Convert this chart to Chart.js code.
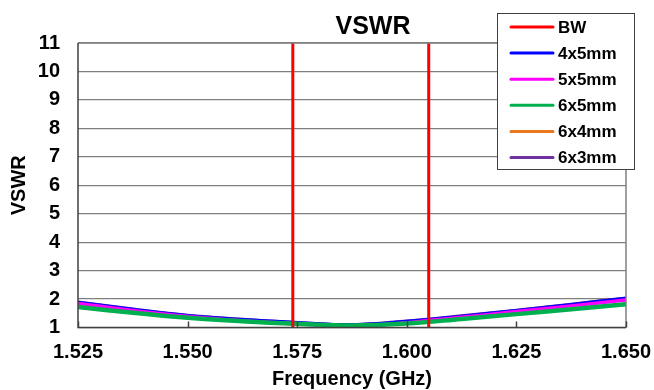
<!DOCTYPE html>
<html>
<head>
<meta charset="utf-8">
<script src="https://cdn.jsdelivr.net/npm/chart.js@4/dist/chart.umd.min.js"></script>
<style>
  html, body { margin: 0; padding: 0; background: #fff; }
  #wrap { width: 654px; height: 390px; }
</style>
</head>
<body>
<div id="wrap"><canvas id="vswrChart" width="654" height="390"></canvas></div>
<script>
const FONT = "'Liberation Sans', Arial, sans-serif";

// frequency points (GHz)
const freqs = [1.525, 1.5375, 1.55, 1.5625, 1.575, 1.5875, 1.60, 1.6125, 1.625, 1.6375, 1.65];
const vswr4x5 = [1.89, 1.64, 1.42, 1.28, 1.18, 1.10, 1.22, 1.40, 1.60, 1.81, 2.03];
const vswr5x5 = [1.84, 1.60, 1.39, 1.24, 1.13, 1.04, 1.17, 1.36, 1.56, 1.76, 1.97];
const vswr6x5 = [1.72, 1.52, 1.34, 1.22, 1.13, 1.07, 1.14, 1.30, 1.47, 1.64, 1.82];
const vswr6x4 = [1.73, 1.53, 1.35, 1.22, 1.13, 1.07, 1.15, 1.31, 1.48, 1.65, 1.83];
const vswr6x3 = [1.90, 1.65, 1.43, 1.29, 1.18, 1.10, 1.23, 1.41, 1.61, 1.82, 2.04];

// band edges (GHz)
const bwEdges = [1.574, 1.605];
const yRange = [1, 11];
const xTicks = [1.525, 1.55, 1.575, 1.60, 1.625, 1.65];

function pts(ys) {
  return freqs.map((f, i) => ({ x: f, y: ys[i] }));
}

const bwPoints = [
  { x: bwEdges[0], y: yRange[0] }, { x: bwEdges[0], y: yRange[1] },
  { x: (bwEdges[0] + bwEdges[1]) / 2, y: null },
  { x: bwEdges[1], y: yRange[1] }, { x: bwEdges[1], y: yRange[0] }
];

function curve(label, ys, color, width, order) {
  return {
    label: label,
    data: pts(ys),
    borderColor: color,
    backgroundColor: color,
    borderWidth: width,
    pointRadius: 0,
    tension: 0.4,
    order: order
  };
}

// inward x ticks, plot frame and the boxed legend
const extras = {
  id: "extras",
  afterDraw(chart) {
    const ctx = chart.ctx;
    const a = chart.chartArea;
    const xs = chart.scales.x;
    ctx.save();
    ctx.strokeStyle = "#808080";
    ctx.lineWidth = 1.5;
    ctx.beginPath();
    ctx.moveTo(a.left, a.top);
    ctx.lineTo(a.right, a.top);
    ctx.lineTo(a.right, a.bottom);
    ctx.stroke();
    ctx.strokeStyle = "#404040";
    ctx.lineWidth = 1.5;
    ctx.beginPath();
    ctx.moveTo(a.left, a.top);
    ctx.lineTo(a.left, a.bottom);
    ctx.lineTo(a.right, a.bottom);
    xTicks.forEach(t => {
      const px = Math.round(xs.getPixelForValue(t)) + 0.5;
      ctx.moveTo(px, a.bottom);
      ctx.lineTo(px, a.bottom - 6);
    });
    ctx.stroke();

    // legend box
    const bx = 497, by = 13, bw = 137, bh = 156;
    ctx.fillStyle = "#fff";
    ctx.fillRect(bx, by, bw, bh);
    ctx.strokeStyle = "#404040";
    ctx.lineWidth = 1;
    ctx.strokeRect(bx + 0.5, by + 0.5, bw, bh);
    ctx.font = "bold 17px " + FONT;
    ctx.textBaseline = "middle";
    ctx.textAlign = "left";
    chart.data.datasets.forEach((ds, i) => {
      const y = 27 + i * 26.1;
      ctx.strokeStyle = ds.borderColor;
      ctx.lineWidth = 3;
      ctx.lineCap = "round";
      ctx.beginPath();
      ctx.moveTo(511, y);
      ctx.lineTo(553, y);
      ctx.stroke();
      ctx.fillStyle = "#000";
      ctx.fillText(ds.label, 558, y + 1);
    });
    ctx.restore();
  }
};

const chartTitle = {
  id: "chartTitle",
  afterDraw(chart) {
    const ctx = chart.ctx;
    ctx.save();
    ctx.font = "bold 25px " + FONT;
    ctx.fillStyle = "#000";
    ctx.textAlign = "center";
    ctx.textBaseline = "middle";
    ctx.fillText("VSWR", 373, 27);
    ctx.restore();
  }
};

new Chart(document.getElementById("vswrChart"), {
  type: "line",
  data: {
    datasets: [
      {
        label: "BW",
        data: bwPoints,
        borderColor: "#ff0000",
        backgroundColor: "#ff0000",
        borderWidth: 3,
        pointRadius: 0,
        spanGaps: false,
        order: 0
      },
      curve("4x5mm", vswr4x5, "#0000ff", 3, 3),
      curve("5x5mm", vswr5x5, "#ff00ff", 3.5, 2),
      curve("6x5mm", vswr6x5, "#00b050", 4.5, 1),
      curve("6x4mm", vswr6x4, "#e8771e", 3, 5),
      curve("6x3mm", vswr6x3, "#7030a0", 3, 4)
    ]
  },
  options: {
    responsive: false,
    animation: false,
    layout: { autoPadding: false, padding: { left: 0, right: 28, top: 43, bottom: 0 } },
    plugins: {
      legend: { display: false },
      title: { display: false },
      tooltip: { enabled: false }
    },
    scales: {
      x: {
        type: "linear",
        min: 1.525,
        max: 1.65,
        afterBuildTicks(scale) {
          scale.ticks = xTicks.map(v => ({ value: v }));
        },
        afterFit(scale) {
          scale.height = 62.5;
          scale.paddingLeft = 0;
          scale.paddingRight = 0;
        },
        grid: { display: false, drawTicks: false },
        border: { display: false },
        ticks: {
          color: "#000",
          padding: 13,
          maxRotation: 0,
          font: { family: FONT, size: 20, weight: "bold" },
          callback: v => Number(v).toFixed(3)
        },
        title: {
          display: true,
          text: "Frequency (GHz)",
          color: "#000",
          padding: { top: 0, bottom: -1 },
          font: { family: FONT, size: 20, weight: "bold" }
        }
      },
      y: {
        min: yRange[0],
        max: yRange[1],
        afterFit(scale) { scale.width = 78; },
        grid: { color: "#808080", lineWidth: 1.2, drawTicks: false },
        border: { display: false },
        ticks: {
          stepSize: 1,
          color: "#000",
          padding: 18,
          font: { family: FONT, size: 20, weight: "bold" }
        },
        title: {
          display: true,
          text: "VSWR",
          color: "#000",
          padding: { top: 7, bottom: 0 },
          font: { family: FONT, size: 20, weight: "bold" }
        }
      }
    }
  },
  plugins: [extras, chartTitle]
});
</script>
</body>
</html>
